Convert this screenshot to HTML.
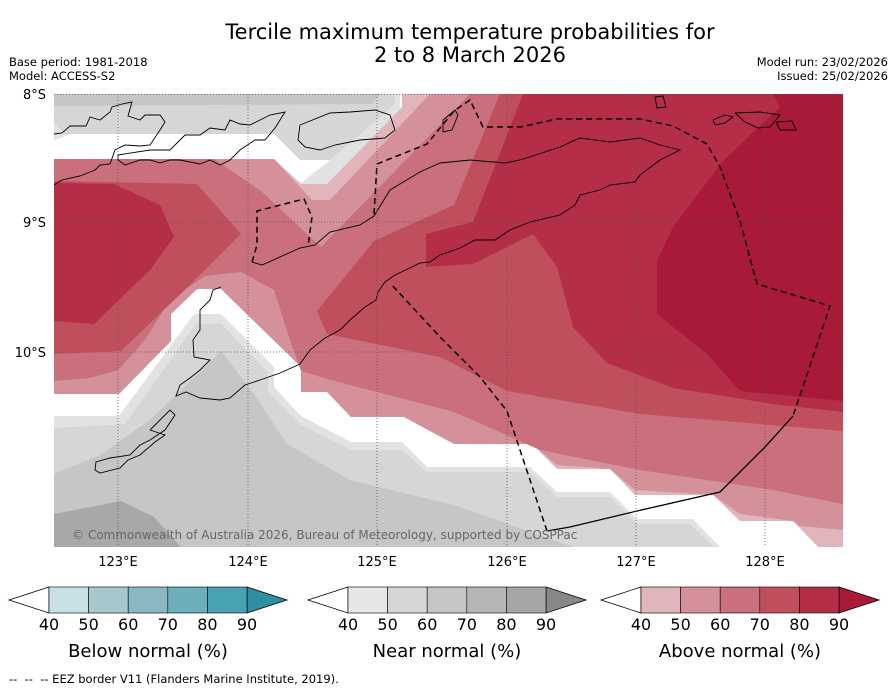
<!DOCTYPE html>
<html><head><meta charset="utf-8">
<style>
body{margin:0;background:#fff;font-family:"Liberation Sans","DejaVu Sans",sans-serif;}
#wrap{position:relative;width:896px;height:690px;overflow:hidden;background:#fff}
.t{position:absolute;white-space:nowrap;color:#000}
</style></head>
<body>
<div id="wrap">
<div class="t" style="left:0;width:940px;text-align:center;top:20px;font-family:'DejaVu Sans',sans-serif;font-size:21px">Tercile maximum temperature probabilities for</div>
<div class="t" style="left:0;width:940px;text-align:center;top:43px;font-family:'DejaVu Sans',sans-serif;font-size:21px">2 to 8 March 2026</div>
<div class="t" style="left:9px;top:55px;font-size:11.5px;font-family:'DejaVu Sans',sans-serif">Base period: 1981-2018</div>
<div class="t" style="left:9px;top:69px;font-size:11.5px;font-family:'DejaVu Sans',sans-serif">Model: ACCESS-S2</div>
<div class="t" style="right:8px;top:55px;font-size:11.5px;font-family:'DejaVu Sans',sans-serif">Model run: 23/02/2026</div>
<div class="t" style="right:8px;top:69px;font-size:11.5px;font-family:'DejaVu Sans',sans-serif">Issued: 25/02/2026</div>

<svg id="map" width="896" height="690" style="position:absolute;left:0;top:0">
<defs><clipPath id="mc"><rect x="54" y="94" width="789" height="453"/></clipPath></defs>
<g clip-path="url(#mc)">
<rect x="54" y="94" width="789" height="453" fill="#fff"/>
<g>
<polygon fill="#e2e2e2" points="54,94 400,94 400,112 330,184 300,184 274,157 100,157 54,150"/>
<polygon fill="#d6d6d6" points="54,94 395,94 395,104 330,160 300,160 274,134 64,134 54,122"/>
<polygon fill="#c6c6c6" points="54,94 380,94 372,104 54,106"/>
<polygon fill="#fff" points="54,140 70,134 274,134 300,160 330,160 300,184 274,159 54,159"/>
</g>
<g>
<polygon fill="#e2e2e2" points="54,416 119,416 194,314 221,314 274,367 274,387 301,416 351,442 402,442 427,467 530,467 557,492 610,492 637,519 693,519 720,547 54,547"/>
<polygon fill="#d6d6d6" points="54,428 125,424 196,324 221,324 268,372 268,392 301,425 351,450 402,450 427,472 530,472 557,497 610,497 637,524 690,524 714,547 54,547"/>
<polygon fill="#c6c6c6" points="54,474 100,455 150,420 221,351 254,394 287,444 350,480 454,505 573,547 54,547"/>
<polygon fill="#a8a8a8" points="54,514 121,501 154,517 181,547 54,547"/>
</g>
<g>
<polygon fill="#e0b5bb" points="54,159 274,159 301,184 327,184 402,107 402,94 843,94 843,547 818,547 793,521 740,521 713,495 635,495 610,469 557,469 532,444 454,444 404,417 351,417 327,392 301,392 301,367 221,289 197,289 171,314 171,341 119,394 54,394"/>
<polygon fill="#d4919a" points="54,159 274,159 312,200 330,200 430,94 843,94 843,530 800,526 793,521 740,514 713,495 635,490 610,469 557,465 532,444 454,444 404,417 351,417 327,392 301,392 301,367 221,289 197,289 171,314 171,341 119,394 54,394"/>
<polygon fill="#c9707c" points="54,159 214,159 261,191 321,247 470,94 843,94 843,504 773,490 640,470 540,450 454,412 327,379 301,371 290,340 274,290 241,272 205,276 170,300 145,340 118,370 90,378 54,381"/>
<polygon fill="#c04f5e" points="54,181 197,184 241,234 194,281 121,351 54,354"/>
<polygon fill="#c04f5e" points="317,311 374,241 454,205 500,94 843,94 843,431 640,414 507,391 440,357 327,334"/>
<polygon fill="#b52e47" points="54,183 114,184 160,205 174,237 150,270 94,324 54,321"/>
<polygon fill="#b52e47" points="426,234 473,222 523,94 843,94 843,412 773,404 673,388 607,363 573,327 557,267 533,234 473,264 426,267"/>
<polygon fill="#a81a38" points="773,94 843,94 843,401 740,391 707,354 657,314 657,261 673,227 723,161 780,107"/>
</g>
<g fill="none" stroke="#000" stroke-width="0.9">
<polyline points="252,262 262,265 300,248 315,245 330,232 360,225 374,216 390,190 420,172 440,163 470,160 505,163 520,160 545,152 560,147 580,138 610,142 640,138 660,145 672,148 680,150 660,160 640,175 635,182 610,185 600,190 580,195 575,205 560,215 530,222 510,230 495,240 475,240 460,248 440,255 430,262 420,263 410,268 395,275 385,282 378,292 376,300 365,307 350,320 340,330 325,338 310,350 300,364 280,373 260,380 245,385 230,398 220,400 200,398 186,392 176,396 180,385 190,378 200,370 210,360 194,357 193,340 200,330 200,310 210,300 213,290 221,287"/>
<polyline points="54,185 62,180 80,176 95,170 100,165 110,164 115,150 125,145 140,146 150,145 160,130 165,122 160,115 145,115 140,120 128,116 132,102 122,104 112,107 110,112 100,120 90,117 86,126 70,126 62,133 54,134"/>
<polyline points="118,155 150,150 170,150 180,140 185,135 200,135 210,128 225,130 230,120 240,124 250,125 270,115 285,112 275,128 265,140 255,140 240,150 230,160 220,165 210,160 200,164 190,162 180,160 170,160 160,163 150,160 140,160 125,165 118,160 118,155"/>
<polyline points="300,125 330,113 350,112 375,110 390,115 395,130 385,138 360,140 335,145 320,150 305,147 298,140 300,125"/>
<polyline points="150,430 170,410 175,415 165,430 150,440 140,445 130,455 110,458 96,462 95,470 100,473 120,468 128,460 140,455 155,442 165,435 150,430"/>
<polyline points="655,97 663,96 666,107 657,108 655,97"/>
<polyline points="713,120 725,115 733,117 725,123 715,125 713,120"/>
<polyline points="735,113 760,112 780,115 770,127 758,128 745,122 735,113"/>
<polyline points="776,122 792,121 796,130 780,130 776,122"/>
<polyline points="443,120 455,110 458,115 452,130 443,132 443,120"/>
</g>
<g fill="none" stroke="#000" stroke-width="1.5" stroke-dasharray="6,4">
<polyline points="252,262 257,245 257,211 304,199 312,217 308,246"/>
<polyline points="374,214 377,164 427,144 454,111 470,100 483,127 520,127 557,119 600,119 640,119 673,126 707,144 720,167 740,221 757,284 830,306 793,416"/>
<polyline points="547,531 507,411 480,377 440,337 391,284"/>
</g>
<polyline fill="none" stroke="#000" stroke-width="1.3" points="793,416 765,447 720,492 637,511 570,527 547,531"/>
<g stroke="#555" stroke-width="0.8" stroke-dasharray="1,2">
<line x1="118" y1="94" x2="118" y2="547"/><line x1="248" y1="94" x2="248" y2="547"/><line x1="377" y1="94" x2="377" y2="547"/><line x1="507" y1="94" x2="507" y2="547"/><line x1="636" y1="94" x2="636" y2="547"/><line x1="765" y1="94" x2="765" y2="547"/>
<line x1="54" y1="94.5" x2="843" y2="94.5"/><line x1="54" y1="222" x2="843" y2="222"/><line x1="54" y1="352" x2="843" y2="352"/>
</g>
<text x="72" y="539" fill="#666" font-size="12" font-family="DejaVu Sans, sans-serif">© Commonwealth of Australia 2026, Bureau of Meteorology, supported by COSPPac</text>
</g>
<g font-size="13" font-family="DejaVu Sans, sans-serif">
<text x="46" y="99" text-anchor="end">8°S</text>
<text x="46" y="227" text-anchor="end">9°S</text>
<text x="46" y="357" text-anchor="end">10°S</text>
</g>
<g font-size="13" font-family="DejaVu Sans, sans-serif" text-anchor="middle">
<text x="118" y="566">123°E</text><text x="248" y="566">124°E</text><text x="377" y="566">125°E</text><text x="507" y="566">126°E</text><text x="636" y="566">127°E</text><text x="765" y="566">128°E</text>
</g>
<g id="cbars"></g>
</svg>
<div class="t" style="left:9px;top:672px;font-size:11.5px;font-family:'DejaVu Sans',sans-serif">--&nbsp; --&nbsp; -- EEZ border V11 (Flanders Marine Institute, 2019).</div>
</div>
<script>
const levels=[40,50,60,70,80,90];
const belowColors=["#c9e0e5","#a6c7cb","#89b8c2","#6aafbb","#48a2b3"];
const nearColors=["#e6e6e6","#d6d6d6","#c6c6c6","#b5b5b5","#a5a5a5"];
const aboveColors=["#e0b5bb","#d4919a","#c9707c","#c04f5e","#b52e47"];
const barTitles=["Below normal (%)","Near normal (%)","Above normal (%)"];
const overColors=["#2e90a2","#878787","#a81a38"];
const barStarts=[49,348,641];
const ns="http://www.w3.org/2000/svg";
const g=document.getElementById('cbars');
function mk(t,a){const e=document.createElementNS(ns,t);for(const k in a)e.setAttribute(k,a[k]);return e;}
const sets=[belowColors,nearColors,aboveColors];
const W=198,y0=587,y1=613;
function xOf(b,v){return barStarts[b]+(v-levels[0])/(levels[levels.length-1]-levels[0])*W;}
sets.forEach((cols,b)=>{
  const x0=xOf(b,levels[0]),x1=xOf(b,levels[levels.length-1]);
  const la=mk('polygon',{points:`${x0},${y0} ${x0-40},${(y0+y1)/2} ${x0},${y1}`,fill:'#fff',stroke:'#000','stroke-width':0.8});
  
  
  g.appendChild(la);
  const ra=mk('polygon',{points:`${x1},${y0} ${x1+40},${(y0+y1)/2} ${x1},${y1}`,fill:overColors[b],stroke:'#000','stroke-width':0.8});
  
  
  g.appendChild(ra);
  cols.forEach((c,i)=>{
    const xa=xOf(b,levels[i]),xb=xOf(b,levels[i+1]);
    const r=mk('rect',{x:xa,y:y0,width:xb-xa,height:y1-y0,fill:c,stroke:'#000','stroke-width':0.6});
    
    
    g.appendChild(r);
  });
  levels.forEach(v=>{
    const t=mk('text',{x:xOf(b,v),y:630,'text-anchor':'middle','font-size':16,'font-family':'DejaVu Sans, sans-serif'});
    t.textContent=v;
    
    
    g.appendChild(t);
  });
  const tt=mk('text',{x:(x0+x1)/2,y:657,'text-anchor':'middle','font-size':18,'font-family':'DejaVu Sans, sans-serif'});
  tt.textContent=barTitles[b];
  
  
  g.appendChild(tt);
});
</script>
</body></html>
